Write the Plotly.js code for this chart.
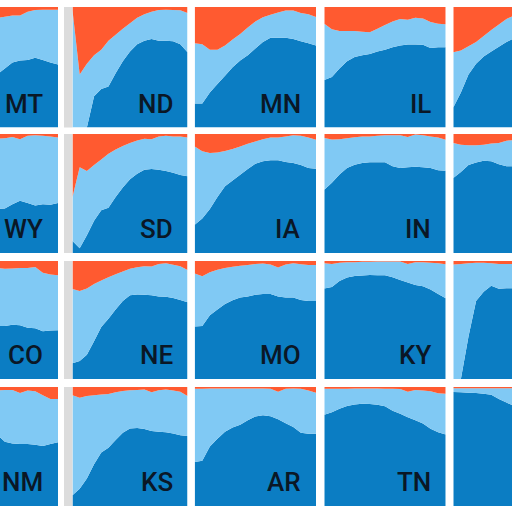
<!DOCTYPE html>
<html><head><meta charset="utf-8">
<script src="https://cdn.plot.ly/plotly-3.0.1.min.js"></script>
<style>html,body{margin:0;padding:0;background:#fff}#chart{width:512px;height:512px}</style>
</head><body><div id="chart"></div>
<script>
const years = [2000,2001,2002,2003,2004,2005,2006,2007,2008,2009,2010,2011,2012,2013,2014,2015,2016];
const states = ["MT","ND","MN","IL","WI","WY","SD","IA","IN","OH","CO","NE","MO","KY","WV","NM","KS","AR","TN","NC"];

// dark share (bottom) and cumulative dark+light share (top of light band), per state
const low_MT = [0.25,0.28,0.30,0.33,0.35,0.38,0.40,0.42,0.44,0.49,0.54,0.556,0.56,0.578,0.56,0.54,0.522];
const mid_MT = [0.85,0.86,0.87,0.88,0.88,0.89,0.90,0.90,0.91,0.92,0.93,0.93,0.96,0.975,0.978,0.978,0.978];
const low_ND = [0,0,0,0.26,0.32,0.34,0.45,0.55,0.63,0.69,0.72,0.735,0.72,0.72,0.715,0.69,0.625];
const mid_ND = [0.97,0.44,0.53,0.6,0.645,0.72,0.77,0.82,0.865,0.91,0.94,0.96,0.975,0.978,0.975,0.972,0.95];
const low_MN = [0.2,0.2,0.29,0.36,0.43,0.5,0.555,0.6,0.655,0.71,0.745,0.745,0.745,0.735,0.715,0.7,0.68];
const mid_MN = [0.70,0.69,0.645,0.645,0.68,0.73,0.775,0.83,0.88,0.915,0.935,0.955,0.97,0.97,0.95,0.94,0.917];
const low_IL = [0.394,0.42,0.49,0.55,0.585,0.6,0.61,0.63,0.645,0.665,0.68,0.688,0.689,0.687,0.66,0.665,0.667];
const mid_IL = [0.86,0.815,0.80,0.80,0.80,0.795,0.79,0.82,0.85,0.88,0.9,0.895,0.91,0.905,0.875,0.86,0.856];
const low_WI = [0.167,0.29,0.44,0.53,0.59,0.63,0.67,0.71,0.74,0.76,0.77,0.77,0.76,0.75,0.74,0.73,0.72];
const mid_WI = [0.625,0.64,0.675,0.71,0.76,0.81,0.855,0.9,0.93,0.95,0.96,0.96,0.95,0.95,0.94,0.93,0.92];
const low_WY = [0.2,0.22,0.25,0.27,0.3,0.32,0.34,0.36,0.37,0.375,0.41,0.44,0.42,0.4,0.41,0.405,0.42];
const mid_WY = [0.9,0.91,0.92,0.93,0.94,0.95,0.95,0.96,0.96,0.965,0.975,0.955,0.985,0.99,0.985,0.98,0.97];
const low_SD = [0.1,0.04,0.15,0.27,0.36,0.38,0.47,0.55,0.62,0.665,0.7,0.705,0.7,0.69,0.675,0.655,0.644];
const mid_SD = [0.47,0.72,0.69,0.74,0.785,0.835,0.87,0.9,0.925,0.945,0.96,0.955,0.98,0.985,0.98,0.978,0.97];
const low_IA = [0.238,0.29,0.37,0.47,0.56,0.61,0.658,0.705,0.75,0.77,0.78,0.78,0.765,0.756,0.74,0.715,0.709];
const mid_IA = [0.896,0.855,0.84,0.845,0.858,0.875,0.896,0.918,0.936,0.955,0.97,0.97,0.98,0.99,0.985,0.97,0.952];
const low_IN = [0.532,0.59,0.66,0.715,0.742,0.756,0.762,0.763,0.763,0.73,0.714,0.72,0.725,0.72,0.715,0.695,0.692];
const mid_IN = [0.966,0.953,0.955,0.965,0.972,0.978,0.98,0.985,0.99,0.99,0.99,0.975,0.995,0.99,0.98,0.97,0.952];
const low_OH = [0.63,0.68,0.74,0.76,0.775,0.77,0.745,0.728,0.73,0.74,0.74,0.73,0.72,0.72,0.71,0.7,0.69];
const mid_OH = [0.924,0.91,0.905,0.905,0.91,0.92,0.925,0.944,0.95,0.955,0.96,0.96,0.965,0.96,0.955,0.95,0.945];
const low_CO = [0.3,0.32,0.34,0.36,0.38,0.4,0.42,0.44,0.45,0.45,0.46,0.455,0.435,0.43,0.405,0.41,0.413];
const mid_CO = [0.9,0.9,0.91,0.92,0.92,0.93,0.93,0.94,0.94,0.935,0.936,0.94,0.94,0.95,0.9,0.885,0.88];
const low_NE = [0.133,0.153,0.205,0.32,0.44,0.51,0.59,0.66,0.71,0.716,0.715,0.71,0.7,0.698,0.686,0.67,0.65];
const mid_NE = [0.763,0.746,0.768,0.805,0.835,0.862,0.888,0.91,0.934,0.948,0.956,0.953,0.975,0.98,0.968,0.955,0.924];
const low_MO = [0.444,0.45,0.54,0.59,0.635,0.668,0.69,0.7,0.713,0.72,0.72,0.7,0.69,0.69,0.67,0.661,0.661];
const mid_MO = [0.895,0.87,0.905,0.925,0.94,0.952,0.96,0.966,0.974,0.978,0.97,0.945,0.97,0.98,0.972,0.966,0.966];
const low_KY = [0.768,0.78,0.83,0.86,0.872,0.877,0.881,0.879,0.88,0.862,0.838,0.818,0.797,0.785,0.758,0.72,0.684];
const mid_KY = [0.98,0.975,0.985,0.99,0.99,0.994,0.994,0.995,0.995,0.996,0.996,0.975,0.99,0.99,0.985,0.98,0.972];
const low_WV = [0,0,0.36,0.66,0.74,0.79,0.765,0.77,0.77,0.76,0.75,0.74,0.73,0.72,0.7,0.68,0.66];
const mid_WV = [0.97,0.975,0.98,0.985,0.985,0.98,0.975,0.975,0.975,0.97,0.97,0.97,0.965,0.96,0.96,0.96,0.955];
const low_NM = [0.4,0.43,0.45,0.48,0.5,0.53,0.56,0.59,0.6,0.54,0.525,0.52,0.52,0.515,0.505,0.52,0.535];
const mid_NM = [0.93,0.93,0.94,0.95,0.95,0.96,0.96,0.965,0.97,0.975,0.975,0.95,0.97,0.965,0.93,0.9,0.9];
const low_KS = [0.09,0.146,0.232,0.35,0.45,0.49,0.555,0.615,0.652,0.655,0.648,0.63,0.624,0.62,0.61,0.595,0.588];
const mid_KS = [0.93,0.91,0.925,0.93,0.936,0.942,0.955,0.966,0.972,0.975,0.978,0.955,0.972,0.978,0.97,0.96,0.924];
const low_AR = [0.37,0.38,0.5,0.565,0.625,0.66,0.683,0.72,0.752,0.762,0.755,0.728,0.695,0.664,0.615,0.608,0.608];
const mid_AR = [0.986,0.986,0.987,0.988,0.988,0.988,0.988,0.988,0.988,0.988,0.985,0.96,0.985,0.988,0.985,0.97,0.952];
const low_TN = [0.767,0.787,0.818,0.84,0.852,0.86,0.858,0.85,0.838,0.8,0.776,0.745,0.72,0.694,0.65,0.62,0.6];
const mid_TN = [0.986,0.985,0.985,0.986,0.988,0.988,0.988,0.987,0.986,0.986,0.983,0.96,0.975,0.97,0.965,0.948,0.944];
const low_NC = [0.958,0.955,0.952,0.95,0.944,0.935,0.9,0.87,0.84,0.82,0.8,0.78,0.77,0.75,0.73,0.72,0.7];
const mid_NC = [0.99,0.99,0.99,0.99,0.99,0.99,0.99,0.99,0.99,0.985,0.985,0.98,0.98,0.975,0.97,0.97,0.965];

const lowData = {MT:low_MT,ND:low_ND,MN:low_MN,IL:low_IL,WI:low_WI,WY:low_WY,SD:low_SD,IA:low_IA,IN:low_IN,OH:low_OH,
  CO:low_CO,NE:low_NE,MO:low_MO,KY:low_KY,WV:low_WV,NM:low_NM,KS:low_KS,AR:low_AR,TN:low_TN,NC:low_NC};
const midData = {MT:mid_MT,ND:mid_ND,MN:mid_MN,IL:mid_IL,WI:mid_WI,WY:mid_WY,SD:mid_SD,IA:mid_IA,IN:mid_IN,OH:mid_OH,
  CO:mid_CO,NE:mid_NE,MO:mid_MO,KY:mid_KY,WV:mid_WV,NM:mid_NM,KS:mid_KS,AR:mid_AR,TN:mid_TN,NC:mid_NC};

const DARK = '#0b7dc3', LIGHT = '#80c9f4', ORANGE = '#ff5a30';
const W = 512, H = 512;
const colL = [-63.5, 72.5, 194.7, 324.3, 453.3];
const colR = [58, 187.5, 316, 445.7, 574.8];
const rowT = [7, 134, 261, 387];
const rowB = [127.5, 253, 379, 506];

const traces = [];
const layout = {
  width: W, height: H, margin: {l:0,r:0,t:0,b:0},
  paper_bgcolor: '#ffffff', plot_bgcolor: '#ffffff',
  showlegend: false, shapes: [], annotations: []
};
const x0 = years[0], x1 = years[years.length-1], span = x1 - x0;

states.forEach((st, i) => {
  const r = Math.floor(i / 5), c = i % 5;
  const n = i + 1;
  const xa = 'x' + (n === 1 ? '' : n), ya = 'y' + (n === 1 ? '' : n);
  const L = colL[c], R = colR[c];
  const dL = Math.max(0, L), dR = Math.min(W, R);
  const rng = [x0 + (dL - L) / (R - L) * span, x0 + (dR - L) / (R - L) * span];
  layout['xaxis' + (n === 1 ? '' : n)] = {domain: [dL / W, dR / W], range: rng, visible: false, fixedrange: true, anchor: ya};
  layout['yaxis' + (n === 1 ? '' : n)] = {domain: [1 - rowB[r] / H, 1 - rowT[r] / H], range: [0, 1], visible: false, fixedrange: true, anchor: xa};
  const lo = lowData[st], mi = midData[st];
  const g = 'g' + st;
  const common = {x: years, xaxis: xa, yaxis: ya, stackgroup: g, mode: 'none', hoverinfo: 'skip', line: {width: 0}};
  traces.push(Object.assign({}, common, {y: lo, fillcolor: DARK}));
  traces.push(Object.assign({}, common, {y: mi.map((v, k) => v - lo[k]), fillcolor: LIGHT}));
  traces.push(Object.assign({}, common, {y: mi.map(v => 1 - v), fillcolor: ORANGE}));
  if (c === 1) {
    layout.shapes.push({type: 'rect', xref: 'paper', yref: 'paper', x0: 64 / W, x1: L / W,
      y0: 1 - rowB[r] / H, y1: 1 - rowT[r] / H, fillcolor: '#dcdcdc', line: {width: 0}, layer: 'below'});
  }
  // the right-hand column is cut by the picture's edge, so its labels are not in view
  if (R - 13 <= W) {
    layout.annotations.push({text: st, xref: 'paper', yref: 'paper', x: (R - 13) / W, y: 1 - (rowB[r] - 7) / H,
      xanchor: 'right', yanchor: 'bottom', showarrow: false,
      font: {family: 'Roboto, sans-serif', size: 26, weight: 500, color: '#0a1726'}});
  }
});

Plotly.newPlot('chart', traces, layout, {displayModeBar: false, staticPlot: true});
</script></body></html>
